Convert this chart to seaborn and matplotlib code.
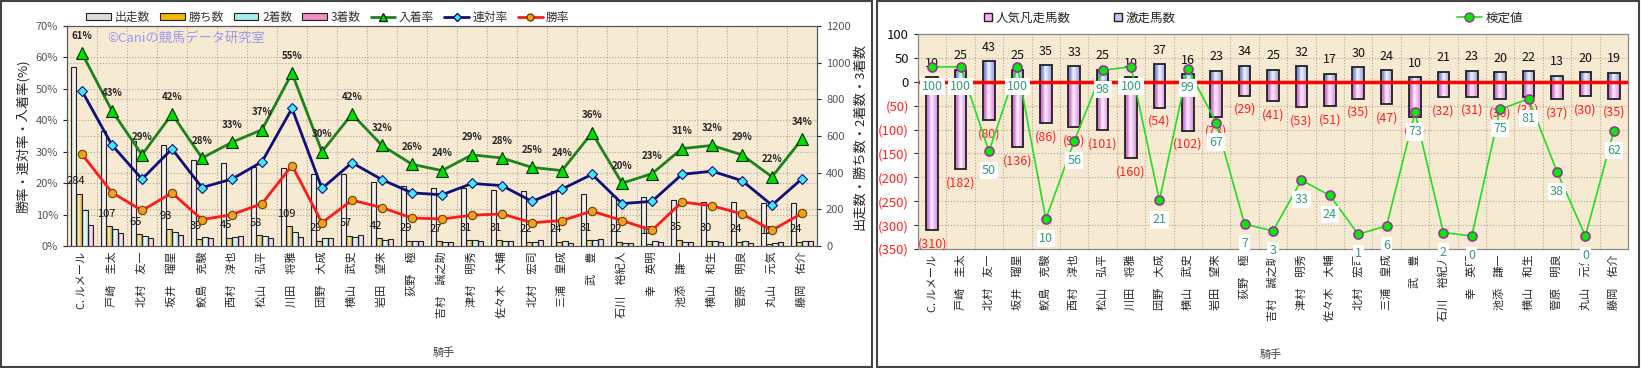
import matplotlib
matplotlib.use('Agg')
import matplotlib.pyplot as plt
from matplotlib.patches import Patch, Rectangle
from matplotlib.lines import Line2D
from matplotlib.colors import LinearSegmentedColormap, to_rgb
import numpy as np
import pandas as pd
import seaborn as sns

# 騎手
jockeys = ['C. ルメール', '戸崎　圭太', '北村　友一', '坂井　瑠星', '鮫島　克駿', '西村　淳也',
           '松山　弘平', '川田　将雅', '団野　大成', '横山　武史', '岩田　望来', '荻野　極',
           '吉村　誠之助', '津村　明秀', '佐々木　大輔', '北村　宏司', '三浦　皇成', '武　豊',
           '石川　裕紀人', '幸　英明', '池添　謙一', '横山　和生', '菅原　明良', '丸山　元気', '藤岡　佑介']

# 左: 成績
runs = [975, 630, 573, 553, 468, 452, 432, 428, 393, 391, 347, 328, 318,
        316, 308, 300, 298, 282, 275, 268, 252, 238, 238, 235, 236]
wins = [284, 107, 65, 93, 39, 45, 58, 109, 29, 57, 42, 29, 27,
        31, 31, 22, 24, 31, 22, 13, 35, 30, 24, 12, 24]
seconds = [196, 95, 57, 77, 48, 51, 57, 78, 43, 47, 31, 26, 24,
           32, 28, 20, 30, 33, 15, 25, 22, 26, 25, 19, 26]
thirds = [114, 69, 44, 61, 44, 53, 44, 48, 46, 61, 38, 30, 24,
          29, 27, 32, 18, 37, 18, 24, 21, 20, 19, 21, 30]
win_rate = [29.2, 17.0, 11.3, 16.9, 8.4, 10.0, 13.5, 25.6, 7.4, 14.6, 12.2, 8.9, 8.6,
            9.8, 10.2, 7.4, 8.1, 11.1, 8.1, 5.0, 14.0, 12.8, 10.2, 5.0, 10.4]
quinella_rate = [49.3, 32.1, 21.3, 30.9, 18.6, 21.3, 26.8, 43.8, 18.3, 26.5, 21.1, 16.9, 16.3,
                 19.9, 19.2, 14.2, 18.1, 22.8, 13.5, 14.2, 22.8, 23.8, 20.8, 13.0, 21.4]
place_rate = [61.3, 43.0, 29.0, 42.0, 28.0, 33.0, 37.0, 55.0, 30.0, 42.0, 32.0, 26.0, 24.0,
              29.0, 28.0, 25.0, 24.0, 36.0, 20.0, 23.0, 31.0, 32.0, 29.0, 22.0, 34.0]

# 右: 激走・凡走
upsets = [10, 25, 43, 25, 35, 33, 25, 10, 37, 16, 23, 34, 25,
          32, 17, 30, 24, 10, 21, 23, 20, 22, 13, 20, 19]
flops = [310, 182, 80, 136, 86, 94, 101, 160, 54, 102, 73, 29, 41,
         53, 51, 35, 47, 73, 32, 31, 36, 31, 37, 30, 35]
test_values = [100, 100, 50, 100, 10, 56, 98, 100, 21, 99, 67, 7, 3,
               33, 24, 1, 6, 73, 2, 0, 75, 81, 38, 0, 62]

sns.set_style('white')
plt.rcParams['font.family'] = ['Noto Sans CJK JP', 'DejaVu Sans']

BG = '#f7ead2'
GRID = dict(color='#b0a898', ls=':', lw=0.8)
PINK = '#ec70ec'
BLUE = '#7890f0'
W, H = 1641, 368
n = len(jockeys)
pos = np.arange(n)


def cylinder(ax, light_amt=0.85):
    # 棒を円柱っぽいグラデーションで塗る
    grad = np.linspace(0, 1, 48).reshape(1, -1)
    for p in list(ax.patches):
        fc = np.array(to_rgb(p.get_facecolor()))
        dark = fc * 0.85
        light = fc + (1 - fc) * light_amt
        cmap = LinearSegmentedColormap.from_list('', [(0, dark), (0.2, fc), (0.45, light), (1, fc)])
        x0, y0, w, h = p.get_x(), p.get_y(), p.get_width(), p.get_height()
        im = ax.imshow(grad, cmap=cmap, extent=(x0, x0 + w, y0, y0 + h), aspect='auto',
                       zorder=p.get_zorder() - 0.05, interpolation='bilinear')
        im.set_clip_path(p)
        p.set_facecolor('none')


fig = plt.figure(figsize=(16.41, 3.68), dpi=100)

# ---------------- 左のグラフ
bar_names = ['出走数', '勝ち数', '2着数', '3着数']
bar_colors = ['#dcdcdc', '#f0b800', '#a8ecec', '#f090c0']
counts = pd.DataFrame({
    '騎手': jockeys * 4,
    '数': runs + wins + seconds + thirds,
    '系列': sum([[s] * n for s in bar_names], []),
})

ax = fig.add_axes([67 / W, 1 - 246 / H, 750 / W, 220 / H])
ax.set_facecolor(BG)
for y in range(200, 1200, 200):
    ax.axhline(y, zorder=0, **GRID)
for k in range(1, 7):
    ax.axhline(1200 * k / 7, zorder=0, **GRID)
for i in range(1, n):
    ax.axvline(i - 0.5, zorder=0, **GRID)

sns.barplot(data=counts, x='騎手', y='数', hue='系列', palette=bar_colors, width=0.74,
            edgecolor='#222222', linewidth=0.8, legend=False, ax=ax, zorder=3)
cylinder(ax)
for i, w in enumerate(wins):
    ax.annotate(str(w), (i - 0.2, w), xytext=(0, 9), textcoords='offset points',
                ha='center', va='center', fontsize=8, color='#111111')

ax2 = ax.twinx()
sns.lineplot(x=pos, y=win_rate, color='#ff1a1a', lw=2, marker='o', markersize=6,
             markerfacecolor='#f0a020', markeredgecolor='#704000', markeredgewidth=0.8, ax=ax2)
sns.lineplot(x=pos, y=quinella_rate, color='#10107a', lw=2, marker='D', markersize=5,
             markerfacecolor='#40e8f8', markeredgecolor='#10107a', markeredgewidth=0.8, ax=ax2)
sns.lineplot(x=pos, y=place_rate, color='#1e821e', lw=2, marker='^', markersize=8.5,
             markerfacecolor='#00dd00', markeredgecolor='#003300', markeredgewidth=0.8, ax=ax2)
for i, r in enumerate(place_rate):
    ax2.annotate(f'{r:.0f}%', (i, r), xytext=(0, 12.5), textcoords='offset points',
                 ha='center', va='center', fontsize=7, fontweight='bold')

ax.set_xlim(-0.5, n - 0.5)
ax.set_ylim(0, 1200)
ax2.set_ylim(0, 70)
ax2.set_yticks(range(0, 71, 10))
ax2.set_yticklabels([f'{v}%' for v in range(0, 71, 10)])
ax.set_yticks(range(0, 1201, 200))
ax.yaxis.tick_right()
ax.yaxis.set_label_position('right')
ax2.yaxis.tick_left()
ax2.yaxis.set_label_position('left')
ax.set_xticks(pos)
ax.set_xticklabels(jockeys, rotation=90, fontsize=8)
ax.tick_params(axis='x', length=0, pad=4)
ax.tick_params(axis='y', labelsize=8, labelcolor='#555555', length=3)
ax2.tick_params(axis='y', labelsize=8, labelcolor='#555555', length=3)
ax.set_xlabel('')
ax.set_ylabel('出走数・勝ち数・2着数・3着数', fontsize=9.5, labelpad=2)
ax2.set_ylabel('勝率・連対率・入着率(%)', fontsize=9.5, labelpad=4)
for a in (ax, ax2):
    for s in a.spines.values():
        s.set_color('#555555')

fig.text(107 / W, 1 - 38 / H, '©Caniの競馬データ研究室', color='#9a9af0',
         fontsize=9.5, va='center')
fig.text(444 / W, 1 - 353 / H, '騎手', fontsize=8, color='#444444', ha='center', va='center')

handles = [Patch(facecolor=c, edgecolor='#222222', lw=0.8) for c in bar_colors]
handles += [
    Line2D([], [], color='#1e821e', lw=2, marker='^', markersize=6,
           markerfacecolor='#00dd00', markeredgecolor='#003300'),
    Line2D([], [], color='#10107a', lw=2, marker='D', markersize=4,
           markerfacecolor='#40e8f8', markeredgecolor='#10107a'),
    Line2D([], [], color='#ff1a1a', lw=2, marker='o', markersize=5,
           markerfacecolor='#f0a020', markeredgecolor='#704000'),
]
fig.legend(handles, bar_names + ['入着率', '連対率', '勝率'], loc='center',
           bbox_to_anchor=(328 / W, 1 - 17 / H), ncol=7, frameon=False, fontsize=8.5,
           handlelength=2.1, handleheight=0.5, columnspacing=0.85, handletextpad=0.3,
           labelcolor='#333333')

# ---------------- 右のグラフ
axR = fig.add_axes([918 / W, 1 - 249 / H, 710 / W, 215 / H])
axR.set_facecolor(BG)
for y in range(-300, 100, 50):
    axR.axhline(y, zorder=0, **GRID)
for i in range(1, n):
    axR.axvline(i - 0.5, zorder=0, **GRID)

sns.barplot(x=jockeys, y=[-f for f in flops], color=PINK, width=0.41,
            edgecolor='#222222', linewidth=1.3, ax=axR, zorder=3)
sns.barplot(x=jockeys, y=upsets, color=BLUE, width=0.41,
            edgecolor='#222222', linewidth=1.3, ax=axR, zorder=3)
cylinder(axR, light_amt=0.92)
axR.axhline(0, color='#ff0000', lw=2.5, zorder=4)
for i, (u, f) in enumerate(zip(upsets, flops)):
    axR.annotate(str(u), (i, u), xytext=(0, 10), textcoords='offset points',
                 ha='center', va='center', fontsize=9, color='#111111')
    axR.annotate(f'({f})', (i, -f), xytext=(0, -10), textcoords='offset points',
                 ha='center', va='center', fontsize=9, color='#ff2020')

axT = axR.twinx()
sns.lineplot(x=pos, y=test_values, color='#22dd22', lw=1.2, marker='o', markersize=6.5,
             markerfacecolor='#00ee00', markeredgecolor='#993399', markeredgewidth=1.2, ax=axT)
for i, v in enumerate(test_values):
    axT.annotate(str(v), (i, v), xytext=(0, -14), textcoords='offset points',
                 ha='center', va='center', fontsize=9, color='#3a9a78',
                 bbox=dict(facecolor='white', edgecolor='none', pad=1.5))
axT.set_ylim(-7.7, 119.4)
axT.set_yticks([])
axT.set_ylabel('')

axR.set_xlim(-0.5, n - 0.5)
axR.set_ylim(-350, 100)
yt = list(range(-350, 101, 50))
axR.set_yticks(yt)
axR.set_yticklabels([f'({-v})' if v < 0 else str(v) for v in yt])
for lab, v in zip(axR.get_yticklabels(), yt):
    lab.set_color('#ff2020' if v < 0 else '#111111')
axR.tick_params(axis='y', labelsize=9.5, length=3)
axR.set_xticks(pos)
axR.set_xticklabels(jockeys, rotation=90, fontsize=8)
axR.tick_params(axis='x', length=0, pad=4)
axR.set_xlabel('')
axR.set_ylabel('')
for a in (axR, axT):
    for s in a.spines.values():
        s.set_color('#888888')

fig.text(1271 / W, 1 - 355 / H, '騎手', fontsize=8, color='#444444', ha='center', va='center')

fig.legend([Patch(facecolor='#f4b0f4', edgecolor='#222222'),
            Patch(facecolor='#c0ccf8', edgecolor='#222222')],
           ['人気凡走馬数', '激走馬数'], loc='center', bbox_to_anchor=(1080 / W, 1 - 18 / H),
           ncol=2, frameon=False, fontsize=9, handlelength=0.6, handleheight=0.6,
           columnspacing=3.5, handletextpad=0.3)
fig.legend([Line2D([], [], color='#22dd22', lw=1.2, marker='o', markersize=6.5,
                   markerfacecolor='#00ee00', markeredgecolor='#993399')],
           ['検定値'], loc='center', bbox_to_anchor=(1490 / W, 1 - 18 / H),
           frameon=False, fontsize=9, handlelength=2, handletextpad=0.3)

# 枠
fig.patches.append(Rectangle((1 / W, 1 / H), 871 / W, 366 / H, transform=fig.transFigure,
                             fill=False, edgecolor='#444444', lw=1.5))
fig.patches.append(Rectangle((877 / W, 1 / H), 762 / W, 366 / H, transform=fig.transFigure,
                             fill=False, edgecolor='#444444', lw=1.5))

fig.savefig('out.png', dpi=100)
